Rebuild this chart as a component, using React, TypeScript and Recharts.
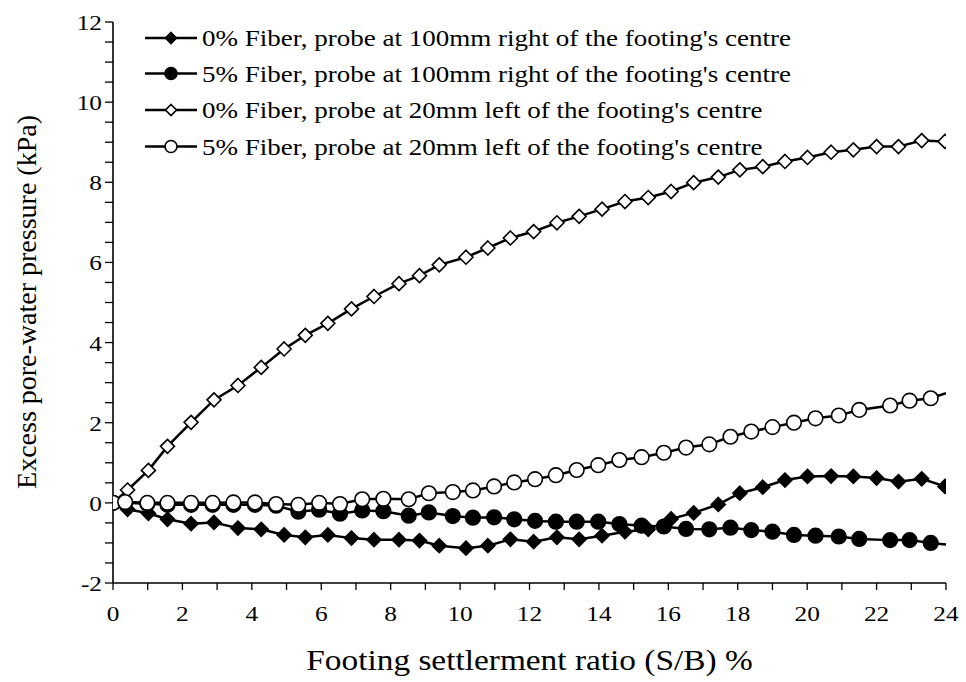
import React from 'react';
import { LineChart, Line, XAxis, YAxis, Legend } from 'recharts';

// Settlement ratios (S/B %) for 0% fiber series (diamonds)
const xs0 = [0, 0.42, 1.02, 1.57, 2.25, 2.91, 3.6, 4.27, 4.93, 5.54, 6.19, 6.87, 7.52, 8.24, 8.83, 9.4, 10.17, 10.8, 11.45, 12.12, 12.79, 13.43, 14.09, 14.75, 15.42, 16.08, 16.73, 17.44, 18.06, 18.72, 19.36, 20.01, 20.69, 21.33, 22.0, 22.63, 23.3, 23.97];
// Settlement ratios for 5% fiber series (circles)
const xs5 = [0, 0.35, 0.99, 1.57, 2.25, 2.87, 3.47, 4.09, 4.7, 5.34, 5.94, 6.54, 7.18, 7.79, 8.52, 9.1, 9.79, 10.37, 10.98, 11.56, 12.16, 12.76, 13.36, 13.98, 14.59, 15.23, 15.87, 16.51, 17.18, 17.79, 18.39, 19.0, 19.62, 20.24, 20.91, 21.5, 22.39, 22.95, 23.56, 24.0];

const fiber0Right100 = [0, -0.16, -0.26, -0.41, -0.52, -0.49, -0.63, -0.66, -0.8, -0.86, -0.8, -0.88, -0.92, -0.92, -0.94, -1.07, -1.13, -1.07, -0.91, -0.97, -0.86, -0.91, -0.82, -0.72, -0.66, -0.4, -0.25, -0.04, 0.24, 0.39, 0.57, 0.66, 0.67, 0.66, 0.62, 0.53, 0.6, 0.41];
const fiber5Right100 = [0, 0, -0.02, -0.05, -0.05, -0.05, -0.05, -0.05, -0.07, -0.22, -0.17, -0.27, -0.19, -0.21, -0.32, -0.24, -0.33, -0.37, -0.36, -0.41, -0.45, -0.47, -0.47, -0.47, -0.53, -0.57, -0.59, -0.65, -0.66, -0.62, -0.68, -0.72, -0.8, -0.82, -0.84, -0.9, -0.93, -0.93, -1.0, -1.04];
const fiber0Left20 = [0, 0.32, 0.81, 1.41, 2.01, 2.57, 2.93, 3.38, 3.84, 4.18, 4.48, 4.84, 5.15, 5.47, 5.67, 5.94, 6.13, 6.36, 6.61, 6.77, 6.99, 7.15, 7.33, 7.52, 7.62, 7.77, 7.99, 8.13, 8.31, 8.39, 8.52, 8.62, 8.75, 8.81, 8.89, 8.89, 9.04, 9.02];
const fiber5Left20 = [0, 0.02, 0, 0, 0, 0, 0.01, 0.01, -0.03, -0.05, 0, -0.03, 0.09, 0.1, 0.09, 0.24, 0.27, 0.31, 0.41, 0.51, 0.59, 0.69, 0.82, 0.94, 1.07, 1.14, 1.25, 1.38, 1.46, 1.65, 1.78, 1.89, 2.0, 2.11, 2.18, 2.32, 2.43, 2.55, 2.61, 2.74];

const seriesNames = [
  "0% Fiber, probe at 100mm right of the footing's centre",
  "5% Fiber, probe at 100mm right of the footing's centre",
  "0% Fiber, probe at 20mm left of the footing's centre",
  "5% Fiber, probe at 20mm left of the footing's centre",
];

const xTitle = 'Footing settlerment ratio (S/B) %';
const yTitle = 'Excess pore-water pressure (kPa)';

const xTicks = Array.from({ length: 25 }, (_, i) => i);
const yTicks = Array.from({ length: 29 }, (_, i) => -2 + i * 0.5);

const toData = (xs: number[], ys: number[]) => xs.map((x, i) => ({ x, y: ys[i] }));

const FONT = '"Liberation Serif", "Times New Roman", serif';
const STRETCH = 1.15;

type Shape = 'diamond' | 'circle';

const Marker = ({ cx, cy, shape, filled, size }: { cx: number; cy: number; shape: Shape; filled: boolean; size: number }) => {
  if (shape === 'diamond') {
    const r = size;
    return (
      <path
        d={`M${cx},${cy - r}L${cx + r},${cy}L${cx},${cy + r}L${cx - r},${cy}Z`}
        fill={filled ? '#000' : '#fff'}
        stroke="#000"
        strokeWidth={1.6}
      />
    );
  }
  return <circle cx={cx} cy={cy} r={size} fill={filled ? '#000' : '#fff'} stroke="#000" strokeWidth={1.6} />;
};

const makeDot = (shape: Shape, filled: boolean, total: number, hideLast: boolean) => (props: any) => {
  const { cx, cy, index } = props;
  if (hideLast && index === total - 1) return <g key={`d-${index}`} />;
  return (
    <g key={`d-${index}`}>
      <Marker cx={cx} cy={cy} shape={shape} filled={filled} size={shape === 'diamond' ? 7 : 7.3} />
    </g>
  );
};

const XTick = (props: any) => {
  const { x, y, payload } = props;
  if (payload.value % 2 !== 0) return <g />;
  return (
    <text transform={`translate(${x},${y + 29}) scale(${STRETCH},1)`} textAnchor="middle" fontFamily={FONT} fontSize={22} fill="#000">
      {payload.value}
    </text>
  );
};

const YTick = (props: any) => {
  const { x, y, payload } = props;
  if (payload.value % 2 !== 0) return <g />;
  return (
    <text transform={`translate(${x - 1},${y + 8}) scale(${STRETCH},1)`} textAnchor="end" fontFamily={FONT} fontSize={22} fill="#000">
      {payload.value}
    </text>
  );
};

const XTitle = () => (
  <text transform={`translate(529.5,670) scale(${STRETCH},1)`} textAnchor="middle" fontFamily={FONT} fontSize={29} fill="#000">
    {xTitle}
  </text>
);

const YTitle = () => (
  <text transform="translate(36,302) rotate(-90)" textAnchor="middle" fontFamily={FONT} fontSize={28} fill="#000">
    {yTitle}
  </text>
);

const legendItems: { shape: Shape; filled: boolean }[] = [
  { shape: 'diamond', filled: true },
  { shape: 'circle', filled: true },
  { shape: 'diamond', filled: false },
  { shape: 'circle', filled: false },
];
const legendRowY = [38, 73.5, 110, 146.5];

const LegendContent = () => (
  <svg width={760} height={150} style={{ overflow: 'visible' }}>
    {legendItems.map((it, i) => {
      const cy = legendRowY[i] - 20;
      return (
        <g key={i}>
          <line x1={5} x2={57} y1={cy} y2={cy} stroke="#000" strokeWidth={2.5} />
          <Marker cx={31} cy={cy} shape={it.shape} filled={it.filled} size={it.shape === 'diamond' ? 5.5 : 6} />
          <text transform={`translate(62,${cy + 8}) scale(${STRETCH},1)`} fontFamily={FONT} fontSize={23.5} fill="#000">
            {seriesNames[i]}
          </text>
        </g>
      );
    })}
  </svg>
);

export default function App() {
  return (
    <div style={{ position: 'absolute', left: 0, top: 0, width: 966, height: 682, background: '#fff' }}>
      <LineChart width={966} height={682} margin={{ top: 22, right: 20, bottom: 0, left: 0 }}>
        <XAxis
          type="number"
          dataKey="x"
          domain={[0, 24]}
          ticks={xTicks}
          interval={0}
          tick={<XTick />}
          tickSize={7}
          height={99}
          axisLine={{ stroke: '#000', strokeWidth: 1.6 }}
          tickLine={{ stroke: '#000', strokeWidth: 1.3 }}
          allowDataOverflow
          label={<XTitle />}
        />
        <YAxis
          type="number"
          domain={[-2, 12]}
          ticks={yTicks}
          interval={0}
          tick={<YTick />}
          tickSize={8}
          width={113}
          axisLine={{ stroke: '#000', strokeWidth: 1.6 }}
          tickLine={{ stroke: '#000', strokeWidth: 1.3 }}
          allowDataOverflow
          label={<YTitle />}
        />
        <Legend
          layout="vertical"
          align="center"
          verticalAlign="middle"
          content={<LegendContent />}
          wrapperStyle={{ left: 140, top: 20, width: 760, height: 150 }}
        />
        <Line
          data={toData(xs0, fiber0Right100)}
          dataKey="y"
          name={seriesNames[0]}
          stroke="#000"
          strokeWidth={2.5}
          dot={makeDot('diamond', true, xs0.length, false)}
          isAnimationActive={false}
        />
        <Line
          data={toData(xs5, fiber5Right100)}
          dataKey="y"
          name={seriesNames[1]}
          stroke="#000"
          strokeWidth={2.5}
          dot={makeDot('circle', true, xs5.length, true)}
          isAnimationActive={false}
        />
        <Line
          data={toData(xs0, fiber0Left20)}
          dataKey="y"
          name={seriesNames[2]}
          stroke="#000"
          strokeWidth={2.5}
          dot={makeDot('diamond', false, xs0.length, false)}
          isAnimationActive={false}
        />
        <Line
          data={toData(xs5, fiber5Left20)}
          dataKey="y"
          name={seriesNames[3]}
          stroke="#000"
          strokeWidth={2.5}
          dot={makeDot('circle', false, xs5.length, true)}
          isAnimationActive={false}
        />
      </LineChart>
    </div>
  );
}
